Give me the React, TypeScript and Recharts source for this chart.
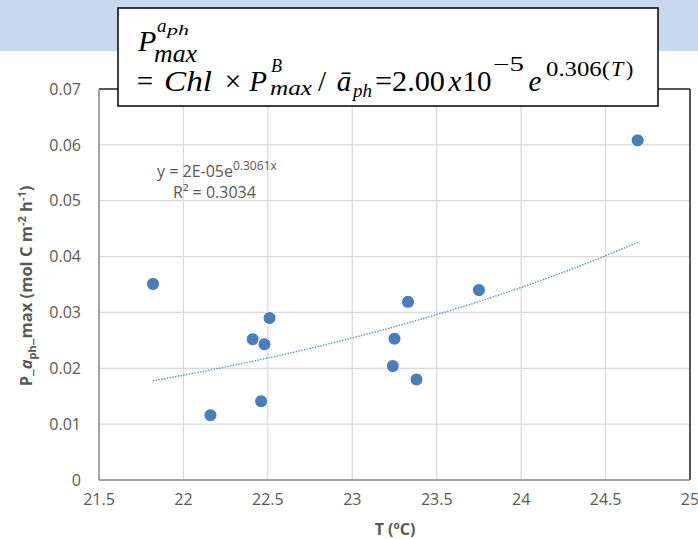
import { CartesianGrid, ReferenceLine, Scatter, ScatterChart, XAxis, YAxis } from "recharts";

// temperature (°C) and P^aph_max (mol C m-2 h-1) for each station
const tempC = [21.82, 22.16, 22.41, 22.48, 22.51, 22.46, 23.25, 23.24, 23.33, 23.38, 23.75, 24.69];
const pMax = [0.0351, 0.0116, 0.0252, 0.0243, 0.029, 0.0141, 0.0253, 0.0204, 0.0319, 0.018, 0.034, 0.0608];

const xTicks = [21.5, 22, 22.5, 23, 23.5, 24, 24.5, 25];
const yTicks = [0, 0.01, 0.02, 0.03, 0.04, 0.05, 0.06, 0.07];

const fitText = "y = 2E-05e";
const fitPower = "0.3061x";
const r2Text = "R² = 0.3034";

const points = tempC.map((t, i) => ({ t, p: pMax[i] }));

// Excel-style exponential trendline: least squares on ln(y)
function expFit(xs: number[], ys: number[]) {
  const n = xs.length;
  const ly = ys.map((v) => Math.log(v));
  const mx = xs.reduce((s, v) => s + v, 0) / n;
  const my = ly.reduce((s, v) => s + v, 0) / n;
  let sxy = 0;
  let sxx = 0;
  xs.forEach((x, i) => {
    sxy += (x - mx) * (ly[i] - my);
    sxx += (x - mx) * (x - mx);
  });
  const b = sxy / sxx;
  return { a: Math.exp(my - b * mx), b };
}

const fit = expFit(tempC, pMax);
const tMin = Math.min(...tempC);
const tMax = Math.max(...tempC);
const trend = Array.from({ length: 41 }, (_, i) => {
  const t = tMin + ((tMax - tMin) * i) / 40;
  return { t, p: fit.a * Math.exp(fit.b * t) };
});

const GREY = "#595959";
const SANS = "'Open Sans', sans-serif";
const SERIF = "'Liberation Serif', serif";

function Dot(props: any) {
  return <circle cx={props.cx} cy={props.cy} r={6.5} fill="#4a7ebb" stroke="#fff" strokeWidth={1} />;
}

function XTitle() {
  return (
    <text x={395} y={535} textAnchor="middle" fill={GREY} fontFamily={SANS} fontSize={16} fontWeight={700}>
      T (<tspan fontSize={10} dy={-6}>o</tspan>
      <tspan dy={6}>C)</tspan>
    </text>
  );
}

function YTitle() {
  const cx = 32;
  const cy = 286;
  return (
    <text
      x={cx}
      y={cy}
      transform={`rotate(-90, ${cx}, ${cy})`}
      textAnchor="middle"
      fill={GREY}
      fontFamily={SANS}
      fontSize={16.5}
      fontWeight={700}
    >
      P_<tspan fontStyle="italic">a</tspan>
      <tspan fontSize={11} dy={4}>ph</tspan>
      <tspan dy={-4}>_max (mol C m</tspan>
      <tspan fontSize={11} dy={-6}>-2</tspan>
      <tspan dy={6}> h</tspan>
      <tspan fontSize={11} dy={-6}>-1</tspan>
      <tspan dy={6}>)</tspan>
    </text>
  );
}

// one piece of the boxed formula, placed absolutely
function P({ x, y, w, size, it, mid, children }: any) {
  return (
    <tspan
      x={x}
      y={y}
      fontSize={size}
      fontStyle={it ? "italic" : "normal"}
      textAnchor={mid ? "middle" : "start"}
      textLength={w}
      lengthAdjust={w ? "spacingAndGlyphs" : undefined}
    >
      {children}
    </tspan>
  );
}

function Overlay() {
  return (
    <svg width={698} height={539} style={{ position: "absolute", left: 0, top: 0, pointerEvents: "none" }}>
      <rect x={0} y={0} width={698} height={51} fill="#c6d9ef" />
      <rect x={118} y={8} width={540} height={98} fill="#fff" stroke="#000" strokeWidth={1.5} />
      <text fontFamily={SERIF} fill="#000">
        <P x={138} y={51} size={30} it>P</P>
        <P x={157} y={32} size={19} it>a</P>
        <P x={167} y={35} w={22} size={15} it>ph</P>
        <P x={154} y={62} w={43} size={25} it>max</P>
      </text>
      <text fontFamily={SERIF} fill="#000">
        <P x={145} y={91} size={29} mid>=</P>
        <P x={188} y={91} w={48} size={29} it mid>Chl</P>
        <P x={233} y={91} size={29} mid>×</P>
        <P x={258} y={91} size={29} it mid>P</P>
        <P x={271} y={72} size={18} it>B</P>
        <P x={270} y={95} w={42} size={20} it>max</P>
        <P x={322} y={91} size={29} mid>/</P>
        <P x={344} y={91} size={29} it mid>ā</P>
        <P x={353} y={97} size={19} it>ph</P>
        <P x={410} y={91} w={70} size={29} mid>=2.00</P>
        <P x={455} y={91} size={29} it mid>x</P>
        <P x={477} y={91} size={29} mid>10</P>
        <P x={493} y={71} w={31} size={20}>−5</P>
        <P x={535} y={91} size={29} it mid>e</P>
        <P x={546} y={76} w={64} size={22}>0.306(</P>
        <P x={611} y={76} size={22} it>T</P>
        <P x={626} y={76} size={22}>)</P>
      </text>
      {/* trendline equation */}
      <text x={157} y={177} fill={GREY} fontFamily={SANS} fontSize={16}>
        {fitText}
        <tspan fontSize={12} dy={-7}>{fitPower}</tspan>
      </text>
      <text x={173} y={198} fill={GREY} fontFamily={SANS} fontSize={16}>
        {r2Text}
      </text>
    </svg>
  );
}

export default function App() {
  return (
    <div style={{ position: "absolute", left: 0, top: 0, width: 698, height: 539, background: "#fff" }}>
      <ScatterChart width={698} height={539} margin={{ top: 89, right: 8, bottom: 29, left: 39 }}>
        <CartesianGrid stroke="#d9d9d9" strokeWidth={1.2} />
        <XAxis
          type="number"
          dataKey="t"
          domain={[21.5, 25]}
          ticks={xTicks}
          height={30}
          tickSize={0}
          tickMargin={14}
          tickLine={false}
          axisLine={{ stroke: "#8c8c8c", strokeWidth: 1.5 }}
          tick={{ fill: GREY, fontFamily: SANS, fontSize: 16 }}
          label={{ content: () => <XTitle /> }}
        />
        <YAxis
          type="number"
          dataKey="p"
          domain={[0, 0.07]}
          ticks={yTicks}
          width={60}
          tickSize={0}
          tickMargin={18}
          tickLine={false}
          axisLine={{ stroke: "#8c8c8c", strokeWidth: 1.5 }}
          tick={{ fill: GREY, fontFamily: SANS, fontSize: 16 }}
          tickFormatter={(v: number) => (v === 0 ? "0" : v.toFixed(2))}
          label={{ content: () => <YTitle /> }}
        />
        <ReferenceLine y={0.07} stroke="#262626" strokeWidth={1.5} />
        <ReferenceLine x={25} stroke="#262626" strokeWidth={1.5} />
        <Scatter
          data={trend}
          line={{ stroke: "#5b8fd0", strokeWidth: 1.4, strokeDasharray: "1.4 1.4" }}
          shape={() => <g />}
          isAnimationActive={false}
        />
        <Scatter data={points} shape={<Dot />} isAnimationActive={false} />
      </ScatterChart>
      <Overlay />
    </div>
  );
}
